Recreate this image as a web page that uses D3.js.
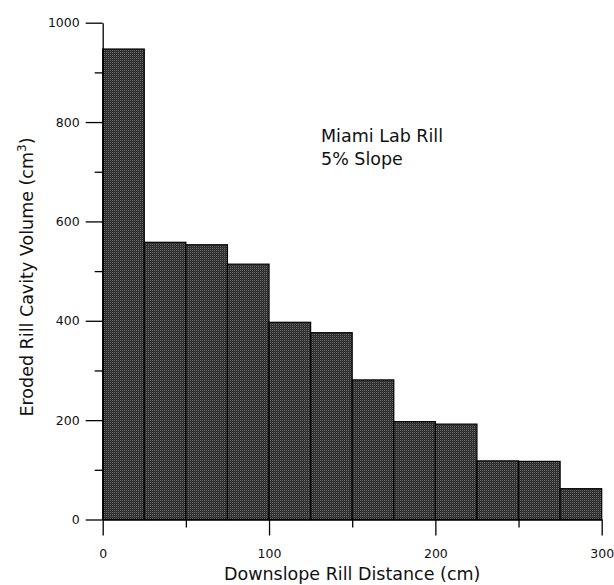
<!DOCTYPE html>
<html>
<head>
<meta charset="utf-8">
<script src="https://cdn.jsdelivr.net/npm/d3@7"></script>
<style>
  html, body { margin: 0; padding: 0; background: #fff; }
  svg { display: block; }
  text { font-family: "DejaVu Sans", sans-serif; fill: #111; }
</style>
</head>
<body>
<svg id="chart" width="614" height="585"></svg>
<script>
// Rill segments: start of each 25 cm interval along the rill
const binStarts = [0, 25, 50, 75, 100, 125, 150, 175, 200, 225, 250, 275];
const binWidth = 25;
// Eroded cavity volume per segment (cm^3)
const volumes = [947, 558, 553, 514, 397, 376, 281, 197, 192, 118, 117, 62];

const xMajorTicks = [0, 100, 200, 300];
const xMinorTicks = [50, 150, 250];
const yMajorTicks = [0, 200, 400, 600, 800, 1000];
const yMinorTicks = [100, 300, 500, 700, 900];

const svg = d3.select("#chart");

const x = d3.scaleLinear().domain([0, 300]).range([102.7, 601.7]);
const y = d3.scaleLinear().domain([0, 1000]).range([519.5, 22.7]);

// halftone-like fill for the bars
const defs = svg.append("defs");
const pat = defs.append("pattern")
  .attr("id", "screen")
  .attr("patternUnits", "userSpaceOnUse")
  .attr("width", 2).attr("height", 2);
pat.append("rect").attr("width", 2).attr("height", 2).attr("fill", "#2a2a2a");
pat.append("rect").attr("width", 1).attr("height", 1).attr("fill", "#6e6e6e");
pat.append("rect").attr("x", 1).attr("y", 1).attr("width", 1).attr("height", 1).attr("fill", "#383838");

// bars
svg.append("g")
  .selectAll("rect")
  .data(binStarts.map((s, i) => ({ s, v: volumes[i] })))
  .join("rect")
  .attr("x", d => x(d.s))
  .attr("y", d => y(d.v))
  .attr("width", d => x(d.s + binWidth) - x(d.s))
  .attr("height", d => y(0) - y(d.v))
  .attr("fill", "url(#screen)")
  .attr("stroke", "#000")
  .attr("stroke-width", 1.2);

// y axis: long major ticks with labels, short minor ticks
svg.append("g").attr("transform", `translate(${x(0)},0)`)
  .call(d3.axisLeft(y).tickValues(yMajorTicks).tickSize(17).tickSizeOuter(0).tickPadding(6).tickFormat(d3.format("d")));
svg.append("g").attr("transform", `translate(${x(0)},0)`)
  .call(d3.axisLeft(y).tickValues(yMinorTicks).tickSize(8).tickSizeOuter(0).tickFormat(""))
  .select(".domain").remove();

// x axis
svg.append("g").attr("transform", `translate(0,${y(0)})`)
  .call(d3.axisBottom(x).tickValues(xMajorTicks).tickSize(16).tickSizeOuter(0).tickPadding(14).tickFormat(d3.format("d")));
svg.append("g").attr("transform", `translate(0,${y(0)})`)
  .call(d3.axisBottom(x).tickValues(xMinorTicks).tickSize(8).tickSizeOuter(0).tickFormat(""))
  .select(".domain").remove();

svg.selectAll(".domain, .tick line").attr("stroke", "#000").attr("stroke-width", 1.3);
svg.selectAll(".tick text").attr("font-size", 12.5).attr("font-family", "'DejaVu Sans', sans-serif").attr("fill", "#111");

// axis titles
svg.append("text")
  .attr("x", (x(0) + x(300)) / 2)
  .attr("y", 580)
  .attr("text-anchor", "middle")
  .attr("font-size", 17.5)
  .text("Downslope Rill Distance (cm)");

const yt = svg.append("text")
  .attr("transform", "translate(33,277) rotate(-90)")
  .attr("text-anchor", "middle")
  .attr("font-size", 17.5);
yt.append("tspan").text("Eroded Rill Cavity Volume (cm");
yt.append("tspan").attr("font-size", 12).attr("dy", -7).text("3");
yt.append("tspan").attr("dy", 7).text(")");

// annotation
const note = svg.append("text").attr("x", 321).attr("font-size", 17.5);
note.append("tspan").attr("x", 321).attr("y", 141.5).text("Miami Lab Rill");
note.append("tspan").attr("x", 321).attr("y", 165).text("5% Slope");
</script>
</body>
</html>
